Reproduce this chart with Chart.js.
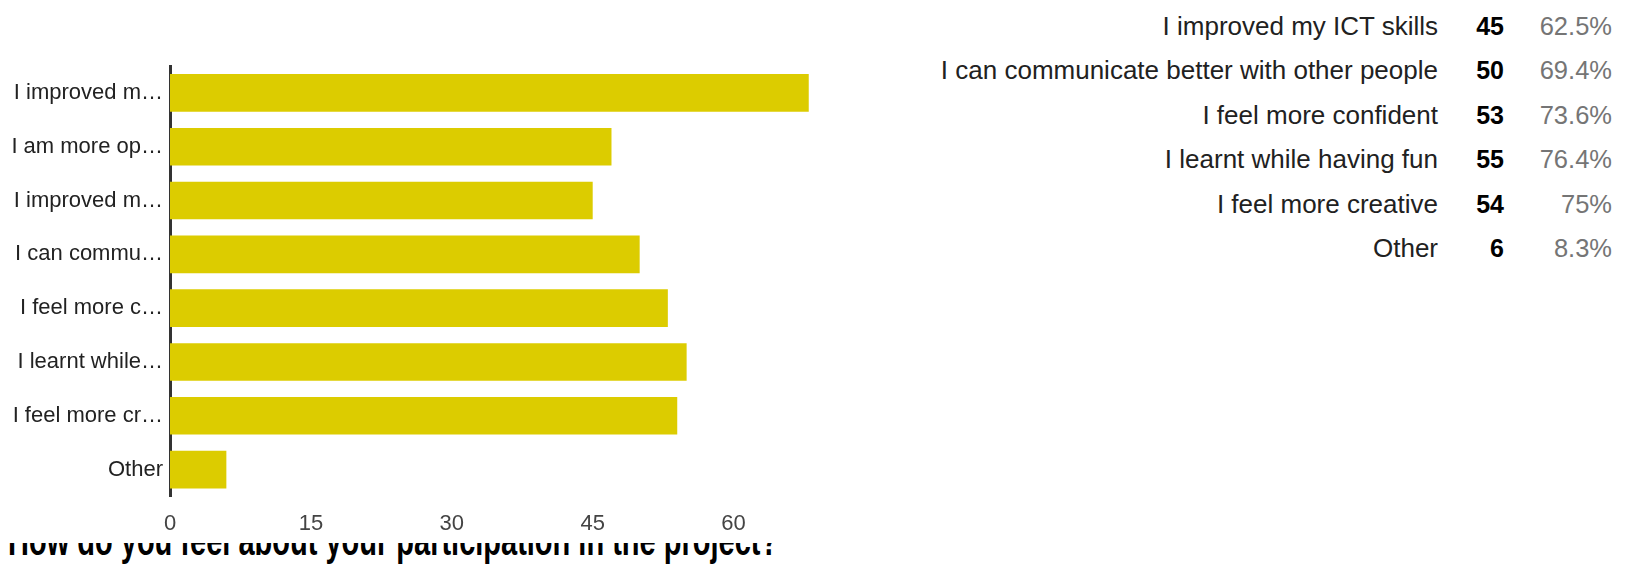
<!DOCTYPE html>
<html>
<head>
<meta charset="utf-8">
<script src="https://cdn.jsdelivr.net/npm/chart.js@4"></script>
<style>
  html, body { margin: 0; padding: 0; background: #fff; }
  body { width: 1630px; height: 566px; position: relative; overflow: hidden; font-family: Arial, "Liberation Sans", sans-serif; }
  #chartBox { position: absolute; left: 0; top: 0; width: 900px; height: 543px; background: #fff; z-index: 2; }
  #chartBox canvas { display: block; }
  /* the question title sits half hidden under the chart, like in the form */
  #question { position: absolute; left: 8px; top: 531px; font-size: 29px; line-height: 29px; font-weight: bold; color: #000;
              white-space: nowrap; z-index: 1; transform: scaleY(1.45); transform-origin: 0 24.5px; }
  .row { position: absolute; left: 0; width: 1630px; height: 44.4px; line-height: 44.4px; }
  .row span { position: absolute; white-space: nowrap; }
  .name { right: 192px; color: #212121; font-size: 26px; }
  .count { right: 126px; color: #000; font-weight: bold; font-size: 25px; }
  .pct { right: 18px; color: #757575; font-size: 25.5px; }
</style>
</head>
<body>
<div id="chartBox"><canvas id="answersChart" width="900" height="543"></canvas></div>
<div id="question">How do you feel about your participation in the project?</div>
<div id="legendRows"></div>

<script>
// answers as shown on the axis (already cut by the form)
const axisLabels = ["I improved m…", "I am more op…", "I improved m…", "I can commu…",
                    "I feel more c…", "I learnt while…", "I feel more cr…", "Other"];
const answerCounts = [68, 47, 45, 50, 53, 55, 54, 6];

// the list on the right is scrolled, it starts at the third answer
const listStart = 2;
const listNames = ["I improved my ICT skills", "I can communicate better with other people",
                   "I feel more confident", "I learnt while having fun", "I feel more creative", "Other"];
const respondents = 72;

const xTicks = [0, 15, 30, 45, 60];


// ---------------------------------------------
// right hand list: answer, count, percent
// ---------------------------------------------
function buildList() {
    const box = document.getElementById("legendRows");
    listNames.forEach((name, i) => {
        const count = answerCounts[listStart + i];
        let pct = (count / respondents * 100).toFixed(1);
        if (pct.endsWith(".0")) pct = pct.slice(0, -2);

        const row = document.createElement("div");
        row.className = "row";
        row.style.top = (4 + i * 44.4) + "px";
        row.innerHTML = `<span class="name">${name}</span><span class="count">${count}</span><span class="pct">${pct}%</span>`;
        box.appendChild(row);
    });
}


// ---------------------------------------------
// BAR CHART: answers
// ---------------------------------------------
function buildChart() {
    const ctx = document.getElementById("answersChart").getContext("2d");

    new Chart(ctx, {
        type: "bar",
        data: {
            labels: axisLabels,
            datasets: [{
                data: answerCounts,
                backgroundColor: "#dccc00",
                borderWidth: 0,
                categoryPercentage: 1,
                barPercentage: 0.7
            }]
        },
        options: {
            indexAxis: "y",
            responsive: false,
            animation: false,
            layout: { padding: { top: 66, right: 25.5, left: 0, bottom: 0 } },
            plugins: {
                legend: { display: false },
                tooltip: { enabled: false }
            },
            scales: {
                x: {
                    min: 0,
                    max: 75,
                    grid: { display: false, drawTicks: false },
                    border: { display: false },
                    ticks: {
                        stepSize: 15,
                        padding: 14,
                        color: "#444",
                        font: { family: "Arial, 'Liberation Sans'", size: 22 },
                        callback: v => xTicks.includes(v) ? v : ""
                    },
                    afterFit: scale => { scale.height = 46.5; }
                },
                y: {
                    grid: { display: false, drawTicks: false },
                    border: { display: true, color: "#333", width: 3 },
                    ticks: {
                        padding: 7,
                        color: "#222",
                        font: { family: "Arial, 'Liberation Sans'", size: 22 },
                        autoSkip: false
                    },
                    afterFit: scale => { scale.width = 170; }
                }
            }
        }
    });
}

buildList();
buildChart();
</script>
</body>
</html>
